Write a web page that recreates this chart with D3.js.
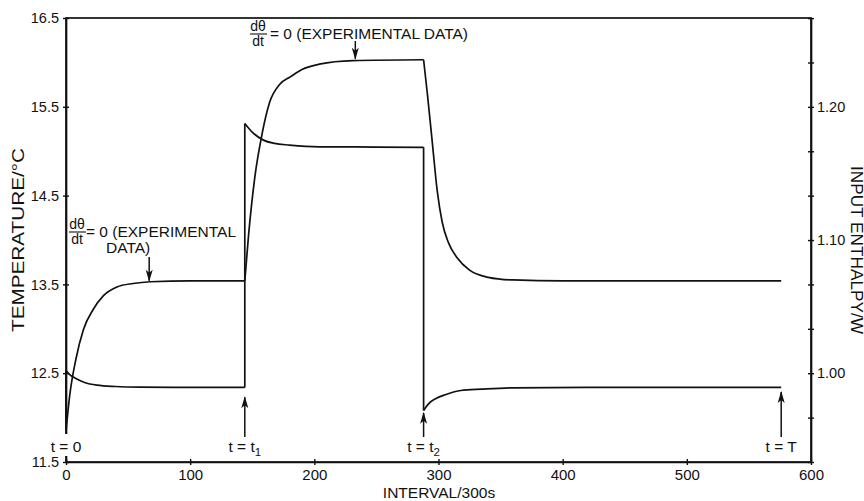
<!DOCTYPE html>
<html>
<head>
<meta charset="utf-8">
<script src="https://cdn.jsdelivr.net/npm/d3@7/dist/d3.min.js"></script>
<style>
  body { margin: 0; background: #fff; }
  svg text { font-family: "Liberation Sans", Arial, Helvetica, sans-serif; fill: #111; }
</style>
</head>
<body>
<figure style="margin:0"></figure>
<script>
// interval number (x) and temperature / input enthalpy
const tempT = [0, 3, 8, 14, 22, 30, 41, 54, 68, 100, 144, 147, 152, 158, 164, 172, 181, 190, 204, 231, 288,
               291, 295, 299, 303, 308, 315, 325, 340, 360, 400, 576];
const tempV = [11.85, 12.25, 12.66, 12.99, 13.22, 13.37, 13.47, 13.51, 13.53, 13.54, 13.54, 14.05, 14.7, 15.2, 15.55, 15.75, 15.84, 15.92, 15.98, 16.02, 16.03,
               15.65, 15.1, 14.55, 14.2, 13.97, 13.8, 13.66, 13.58, 13.55, 13.54, 13.54];
const enthT = [0, 0, 3, 8, 15, 25, 40, 60, 100, 144, 144, 150, 159, 168, 180, 204, 250, 288, 288, 292, 298, 306, 318, 335, 360, 420, 576];
const enthV = [0.957, 1.002, 0.999, 0.996, 0.993, 0.991, 0.990, 0.9895, 0.9893, 0.9893, 1.1875, 1.181, 1.175, 1.1725, 1.1713, 1.170, 1.1698, 1.1696,
               0.972, 0.977, 0.981, 0.984, 0.987, 0.988, 0.989, 0.9893, 0.9893];

const xTicks = [0, 100, 200, 300, 400, 500, 600];
const tempTicks = [11.5, 12.5, 13.5, 14.5, 15.5, 16.5];
const enthMinor = d3.range(0, 11).map(i => 0.9333 + i / 30);
const enthLabels = [1.00, 1.10, 1.20];

const events = [0, 144, 288, 576];
const eventNames = ['0', 't|1', 't|2', 'T'];
const eventArrowTop = [null, 0.982, 0.9702, 0.9859];   // enthalpy level the arrow head reaches
const plateauArrows = [67, 233];
const plateauLevels = [13.53, 16.03];

(() => {
  const totalWidth = 864;
  const totalHeight = 501;
  const margin = {top: 18, right: 53, bottom: 39, left: 66};
  const w = totalWidth - margin.left - margin.right;
  const h = totalHeight - margin.top - margin.bottom;

  const svg = d3.select('figure').append('svg')
    .attr('width', totalWidth)
    .attr('height', totalHeight);

  svg.append('defs').append('marker')
    .attr('id', 'head')
    .attr('viewBox', '0 0 12 8')
    .attr('refX', 11).attr('refY', 4)
    .attr('markerWidth', 12).attr('markerHeight', 8)
    .attr('markerUnits', 'userSpaceOnUse')
    .attr('orient', 'auto')
    .append('path').attr('d', 'M0,0.5 L12,4 L0,7.5 L3,4 Z').attr('fill', '#111');

  const g = svg.append('g').attr('transform', `translate(${margin.left},${margin.top})`);

  const x = d3.scaleLinear().domain([0, 600]).range([0, w]);
  const yT = d3.scaleLinear().domain([11.5, 16.5]).range([h, 0]);
  const yE = d3.scaleLinear().domain([0.9333, 1.2667]).range([h, 0]);

  // frame
  g.append('rect').attr('width', w).attr('height', h)
    .attr('fill', 'none').attr('stroke', '#111').attr('stroke-width', 1.7);

  const xAxis = g.append('g').attr('transform', `translate(0,${h})`)
    .call(d3.axisBottom(x).tickValues(xTicks).tickSizeInner(3).tickSizeOuter(0).tickPadding(4));
  const yAxis = g.append('g')
    .call(d3.axisLeft(yT).tickValues(tempTicks).tickFormat(d3.format('.1f')).tickSizeInner(3).tickSizeOuter(0).tickPadding(4));
  const rAxis = g.append('g').attr('transform', `translate(${w},0)`)
    .call(d3.axisRight(yE).tickValues(enthMinor).tickSizeInner(3).tickSizeOuter(0).tickPadding(3)
      .tickFormat(d => enthLabels.some(v => Math.abs(v - d) < 1e-3) ? d3.format('.2f')(d) : ''));

  [xAxis, yAxis, rAxis].forEach(a => {
    a.select('.domain').attr('stroke', '#111').attr('stroke-width', 1.7);
    a.selectAll('.tick line').attr('stroke', '#111').attr('stroke-width', 1.4);
    a.selectAll('.tick text').style('font-size', '14.5px').attr('fill', '#111');
  });
  xAxis.selectAll('.tick text').style('font-size', '15px');
  xAxis.selectAll('.tick line').attr('y1', -3);
  yAxis.selectAll('.tick line').attr('x1', 3);
  rAxis.selectAll('.tick line').attr('x1', -3);

  svg.append('text')
    .attr('transform', `translate(24,${margin.top + h / 2}) rotate(-90)`)
    .attr('text-anchor', 'middle')
    .attr('textLength', 184).attr('lengthAdjust', 'spacingAndGlyphs')
    .style('font-size', '16px')
    .text('TEMPERATURE/\u00B0C');
  svg.append('text')
    .attr('transform', `translate(851,250) rotate(90)`)
    .attr('text-anchor', 'middle')
    .attr('textLength', 168).attr('lengthAdjust', 'spacingAndGlyphs')
    .style('font-size', '16px')
    .text('INPUT ENTHALPY/W');
  svg.append('text')
    .attr('x', 439).attr('y', 498)
    .attr('text-anchor', 'middle')
    .style('font-size', '15.5px')
    .text('INTERVAL/300s');

  // split a series into smooth runs and vertical jumps
  function pieces(ts, vs) {
    const out = [];
    let cur = [{t: ts[0], v: vs[0]}];
    for (let i = 1; i < ts.length; i++) {
      const p = {t: ts[i], v: vs[i]};
      if (ts[i] === ts[i - 1]) {
        if (cur.length > 1) out.push({smooth: true, pts: cur});
        out.push({smooth: false, pts: [cur[cur.length - 1], p]});
        cur = [p];
      } else {
        cur.push(p);
      }
    }
    if (cur.length > 1) out.push({smooth: true, pts: cur});
    return out;
  }

  function draw(ts, vs, y) {
    const smooth = d3.line().x(d => x(d.t)).y(d => y(d.v)).curve(d3.curveMonotoneX);
    const straight = d3.line().x(d => x(d.t)).y(d => y(d.v));
    g.selectAll(null).data(pieces(ts, vs)).enter().append('path')
      .attr('d', d => (d.smooth ? smooth : straight)(d.pts))
      .attr('fill', 'none').attr('stroke', '#111').attr('stroke-width', 1.7)
      .attr('stroke-linejoin', 'round');
  }

  // temperature: split at t1 and t2 so the corners stay sharp
  const cuts = [0, 10, 20, tempT.length - 1];
  for (let i = 0; i < cuts.length - 1; i++) {
    draw(tempT.slice(cuts[i], cuts[i + 1] + 1), tempV.slice(cuts[i], cuts[i + 1] + 1), yT);
  }
  draw(enthT, enthV, yE);

  // event arrows and labels
  events.forEach((d, i) => {
    const grp = g.append('g');
    const bx = x(d);
    if (eventArrowTop[i] !== null) {
      grp.append('line')
        .attr('x1', bx).attr('x2', bx)
        .attr('y1', 419).attr('y2', yE(eventArrowTop[i]))
        .attr('stroke', '#111').attr('stroke-width', 1.5)
        .attr('marker-end', 'url(#head)');
    } else {
      grp.append('rect').attr('x', bx - 18).attr('y', 416).attr('width', 36).attr('height', 22).attr('fill', '#fff');
    }
    const parts = eventNames[i].split('|');
    const t = grp.append('text').attr('x', bx).attr('y', 434)
      .attr('text-anchor', 'middle').style('font-size', '15.5px');
    t.append('tspan').text('t = ' + parts[0]);
    if (parts[1]) t.append('tspan').attr('dy', 4).style('font-size', '11.5px').text(parts[1]);
  });

  // plateau annotations
  function frac(px, py) {
    const a = svg.append('g').attr('transform', `translate(${px},${py})`);
    a.append('text').attr('x', 8).attr('y', -3).attr('text-anchor', 'middle').style('font-size', '14px').text('d\u03B8');
    a.append('line').attr('x1', 0).attr('x2', 17).attr('y1', 0).attr('y2', 0).attr('stroke', '#111').attr('stroke-width', 1.1);
    a.append('text').attr('x', 8).attr('y', 12).attr('text-anchor', 'middle').style('font-size', '14px').text('dt');
  }
  frac(69, 232);
  svg.append('text').attr('x', 86).attr('y', 237).style('font-size', '15.5px').text('= 0 (EXPERIMENTAL');
  svg.append('text').attr('x', 106).attr('y', 253).style('font-size', '15.5px').text('DATA)');
  frac(250, 34);
  svg.append('text').attr('x', 270).attr('y', 39).style('font-size', '15.5px').text('= 0 (EXPERIMENTAL DATA)');

  g.selectAll('.pa').data(plateauArrows).enter().append('line')
    .attr('x1', d => x(d)).attr('x2', d => x(d))
    .attr('y1', (d, i) => [257, 41][i] - margin.top)
    .attr('y2', (d, i) => yT(plateauLevels[i]) - 1)
    .attr('stroke', '#111').attr('stroke-width', 1.5)
    .attr('marker-end', 'url(#head)');
})();
</script>
</body>
</html>
